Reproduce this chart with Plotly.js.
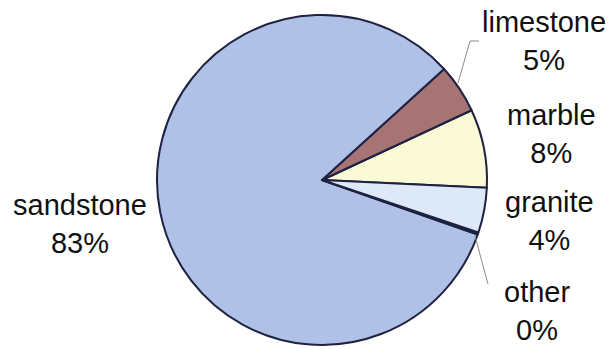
<!DOCTYPE html>
<html><head><meta charset="utf-8">
<script src="https://cdn.plot.ly/plotly-3.0.1.min.js"></script>
<style>html,body{margin:0;padding:0;background:#fff}#chart{width:612px;height:349px}</style>
</head><body><div id="chart"></div>
<script>
const labels = ["marble", "limestone", "sandstone", "other", "granite"];
const values = [7.7, 4.8, 82.9, 0.2, 4.4];
const colors = ["#fafad6", "#a67474", "#afc1e6", "#c8d6ee", "#dde9f8"];
const labelPos = {
  sandstone: {x: 80,  y: 224},
  limestone: {x: 544, y: 41},
  marble:    {x: 551, y: 134},
  granite:   {x: 549, y: 221},
  other:     {x: 537, y: 311}
};
const W = 612, H = 349;
const total = values.reduce((a, b) => a + b, 0);
const annotations = labels.map((l, i) => ({
  xref: "paper", yref: "paper",
  x: labelPos[l].x / W, y: 1 - labelPos[l].y / H,
  xanchor: "center", yanchor: "middle",
  text: l + "<br>" + Math.round(values[i] / total * 100) + "%",
  showarrow: false,
  font: {family: "Liberation Sans, Arial, sans-serif", size: 29, color: "#111"}
}));
function P(x, y) { return [x / W, 1 - y / H]; }
const leader = (pts) => ({
  type: "path", xref: "paper", yref: "paper",
  path: pts.map((p, i) => (i ? "L" : "M") + P(p[0], p[1]).join(",")).join(" "),
  line: {color: "#8a8a8a", width: 1}
});
const data = [{
  type: "pie",
  labels: labels,
  values: values,
  sort: false,
  direction: "counterclockwise",
  rotation: 65,
  textinfo: "none",
  hoverinfo: "label+percent",
  marker: {colors: colors, line: {color: "#1e2140", width: 2}},
  domain: {x: [0.1, 0.9523], y: [0.0115, 0.957]},
  showlegend: false
}];
const layout = {
  width: W, height: H,
  margin: {l: 0, r: 0, t: 0, b: 0},
  paper_bgcolor: "#ffffff",
  annotations: annotations,
  shapes: [
    leader([[458, 83], [470, 41], [479, 41]]),
    leader([[475, 236], [488, 284]])
  ]
};
Plotly.newPlot("chart", data, layout, {displayModeBar: false, staticPlot: true});
</script></body></html>
